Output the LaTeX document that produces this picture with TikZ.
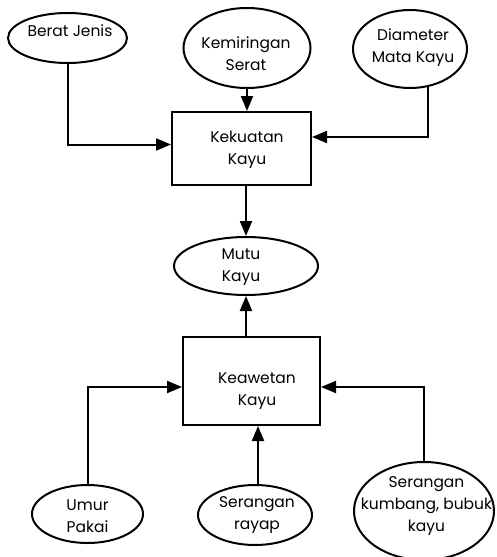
\documentclass[tikz,border=0pt]{standalone}
\usepackage{fontspec}
\setmainfont{Poppins}
\usetikzlibrary{arrows.meta,shapes.geometric,calc}
\begin{document}
\begin{tikzpicture}[x=1pt,y=-1pt,
  every node/.style={inner sep=0pt},
  txt/.style={font=\fontsize{15.5}{22}\selectfont, align=center},
  oval/.style={draw, ellipse, line width=2pt},
  box/.style={draw, rectangle, line width=2pt},
  arr/.style={line width=2pt, -{Triangle[length=15pt,width=12pt]}}]
\useasboundingbox (0,0) rectangle (496,557);
% shapes
\node[oval, minimum width=119pt, minimum height=50pt] (bj) at (67.5,38) {};
\node[oval, minimum width=127pt, minimum height=80pt] (ks) at (247,48) {};
\node[oval, minimum width=114pt, minimum height=78pt] (dm) at (410,49) {};
\node[box, minimum width=139pt, minimum height=73pt] (kk) at (241.5,148.5) {};
\node[oval, minimum width=144pt, minimum height=58pt] (mk) at (246,266) {};
\node[box, minimum width=137pt, minimum height=88pt] (kw) at (251.5,381) {};
\node[oval, minimum width=111pt, minimum height=58pt] (um) at (87.5,514) {};
\node[oval, minimum width=114pt, minimum height=60pt] (sr) at (255,515) {};
\node[oval, minimum width=140pt, minimum height=98pt] (sk) at (424,511) {};
% texts
\node[txt] (bjt) at (70,31) {Berat Jenis};
\node[txt] (kst) at (246,54) {Kemiringan\\Serat};
\node[txt] (dmt) at (413,48) {Diameter\\Mata Kayu};
\node[txt] (kkt) at (247,150) {Kekuatan\\Kayu};
\node[txt] (mkt) at (241,267) {Mutu\\Kayu};
\node[txt] (kwt) at (257,391) {Keawetan\\Kayu};
\node[txt] (umt) at (87.5,516) {Umur\\Pakai};
\node[txt] (srt) at (257,515) {Serangan\\rayap};
\node[txt] (skt) at (426.5,506) {Serangan\\kumbang, bubuk\\kayu};
% connectors
\draw[arr] (bj.south) |- ([yshift=4pt]kk.west);
\draw[arr] (ks.south) -- (ks.south |- kk.north);
\draw[arr] (dm.-65) |- ([yshift=11.5pt]kk.east);
\draw[arr] (kk.south -| mk.north) -- (mk.north);
\draw[arr] (kw.north -| mk.south) -- (mk.south);
\draw[arr] (um.north) |- ([yshift=-6pt]kw.west);
\draw[arr] ([xshift=3pt]sr.north) -- ([xshift=3pt]sr.north |- kw.south);
\draw[arr] (sk.north) |- ([yshift=-6pt]kw.east);
\end{tikzpicture}
\end{document}
